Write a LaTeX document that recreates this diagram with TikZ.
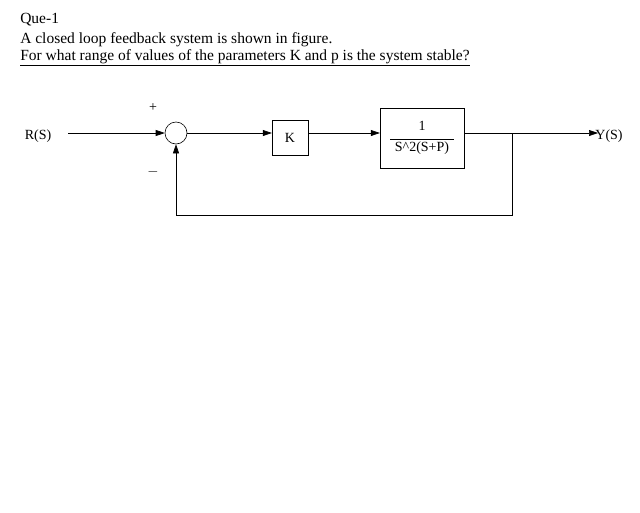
\documentclass[tikz,border=0pt]{standalone}
\usepackage{fontspec}
\setmainfont{Liberation Serif}
\usetikzlibrary{arrows.meta}
\tikzset{
every picture/.style={
line width=0.6pt
}}

\begin{document}
\begin{tikzpicture}[x=1pt, y=-1pt,
block/.style = {rectangle, draw=black, thin, align=center, inner sep=0pt},
lbl/.style = {font=\fontsize{14}{16}\selectfont, inner sep=0pt},
head/.style = {anchor=west, inner sep=0pt, font=\fontsize{15.5}{18}\selectfont},
sig/.style = {-{Triangle[length=9pt,width=6pt]}}]

\useasboundingbox (0,0) rectangle (640,512);

\node [head] (que) at (20,20) {Que-1};
\node [head] (line1) at (20,40) {A closed loop feedback system is shown in figure.};
\node [head] (line2) at (20,58) {\underline{For what range of values of the parameters K and p is the system stable?}};

\node [lbl] (in) at (38,136) {R(S)};
\node [lbl] (out) at (609,136) {Y(S)};
\node [draw, circle, minimum size=22pt, inner sep=0pt] (sum) at (176,133) {};
\node [lbl] (plus) at (153,108) {+};
\node [lbl] (minus) at (153,172) {$-$};
\node [block, minimum width=36pt, minimum height=35pt] (gain) at (290,137.5) {\fontsize{14}{16}\selectfont K};
\node [block, minimum width=84pt, minimum height=60pt] (plant) at (422,138)
  {\fontsize{14}{16}\selectfont 1\\[-3pt] \rule{64pt}{0.6pt}\\[0pt] \fontsize{14}{16}\selectfont S\^{}2(S+P)};
\coordinate (split) at (512,133);
\coordinate (fbr) at (512,215);
\coordinate (fbl) at (176,215);
\coordinate (inend) at (68,133);
\coordinate (outend) at (598,133);

\draw [sig] (inend) -- (sum.west);
\draw [sig] (sum.east) -- (gain.west |- sum.east);
\draw [sig] (gain.east |- sum.east) -- (plant.west |- sum.east);
\draw [sig] (plant.east |- sum.east) -- (outend);
\draw [sig] (split) -- (fbr) -- (fbl) -- (sum.south);

\end{tikzpicture}
\end{document}
